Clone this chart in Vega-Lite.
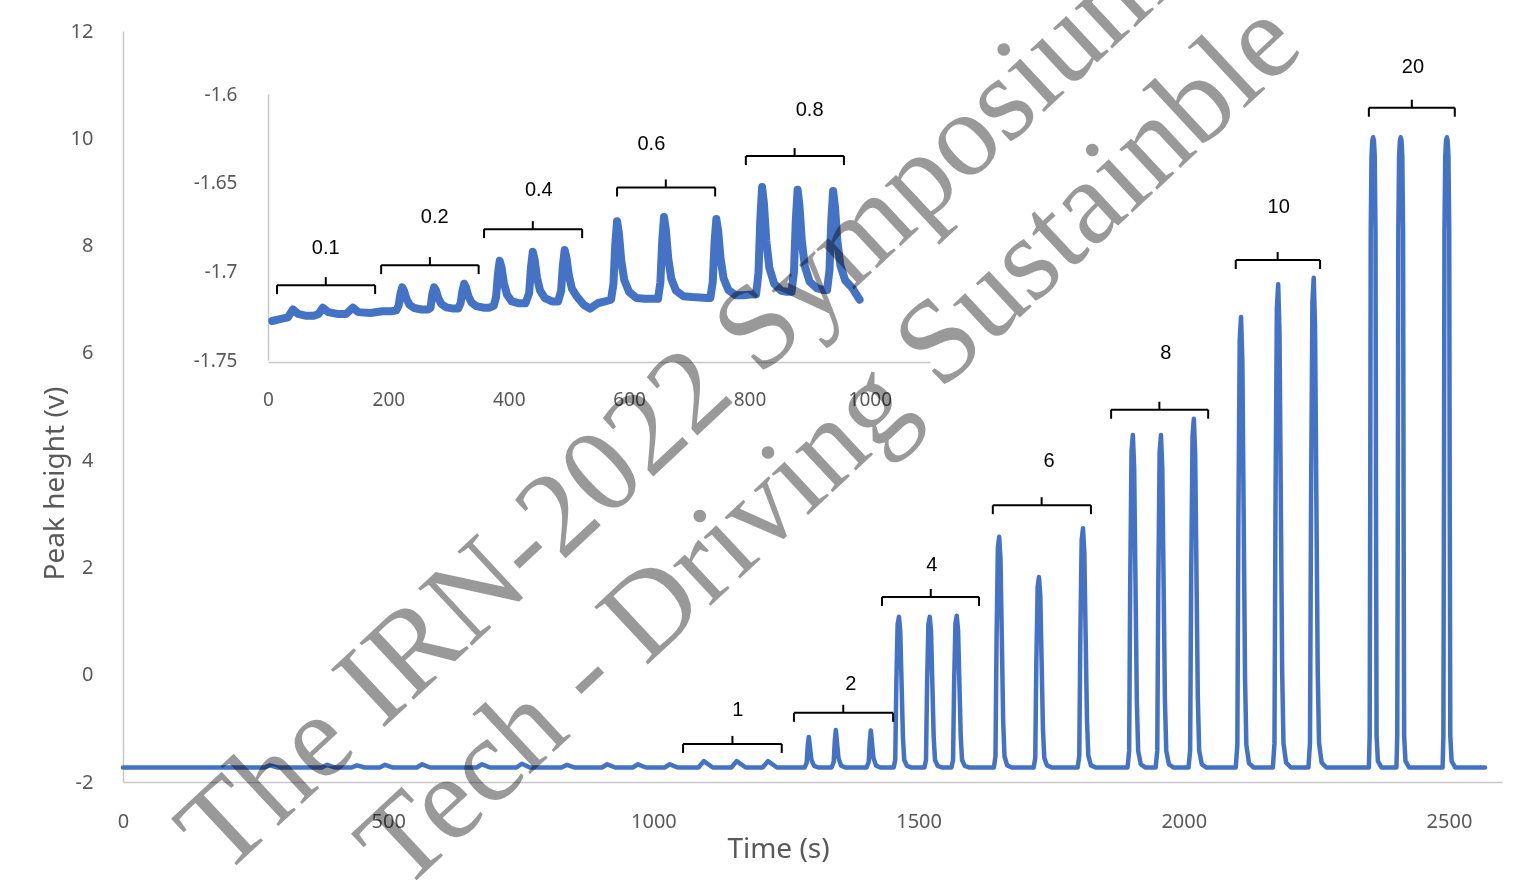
{
  "$schema": "https://vega.github.io/schema/vega-lite/v6.json",
  "width": 1379,
  "height": 751,
  "autosize": {"type": "none"},
  "padding": {"left": 123, "top": 31, "right": 20, "bottom": 105},
  "background": "#ffffff",
  "config": {
    "view": {"stroke": null},
    "axis": {"grid": false, "ticks": false, "labelFlush": false, "labelOverlap": false, "domainColor": "#c8c8c8", "domainWidth": 1.5, "labelColor": "#595959", "labelFont": "Noto Sans", "titleFont": "Noto Sans", "titleColor": "#595959", "titleFontWeight": "normal"}
  },
  "datasets": {
    "main": [
      {"t":0,"v":-1.73},{"t":60,"v":-1.73},
      {"t":267,"v":-1.73},{"t":277,"v":-1.69},{"t":292,"v":-1.73},
      {"t":375,"v":-1.73},{"t":385,"v":-1.68},{"t":400,"v":-1.73},
      {"t":431,"v":-1.73},{"t":441,"v":-1.69},{"t":456,"v":-1.73},
      {"t":484,"v":-1.73},{"t":494,"v":-1.68},{"t":509,"v":-1.73},
      {"t":554,"v":-1.73},{"t":564,"v":-1.67},{"t":579,"v":-1.73},
      {"t":667,"v":-1.73},{"t":677,"v":-1.67},{"t":692,"v":-1.73},
      {"t":742,"v":-1.73},{"t":752,"v":-1.66},{"t":767,"v":-1.73},
      {"t":827,"v":-1.73},{"t":837,"v":-1.68},{"t":852,"v":-1.73},
      {"t":903,"v":-1.73},{"t":913,"v":-1.67},{"t":928,"v":-1.73},
      {"t":961,"v":-1.73},{"t":971,"v":-1.67},{"t":986,"v":-1.73},
      {"t":1021,"v":-1.73},{"t":1031,"v":-1.67},{"t":1046,"v":-1.73},
      {"t":1085,"v":-1.73},{"t":1095,"v":-1.61},{"t":1112,"v":-1.73},
      {"t":1147,"v":-1.73},{"t":1157,"v":-1.61},{"t":1174,"v":-1.73},
      {"t":1206,"v":-1.73},{"t":1216,"v":-1.61},{"t":1233,"v":-1.73},
      {"t":1285,"v":-1.73},{"t":1289,"v":-1.645},{"t":1291,"v":-1.33},{"t":1293,"v":-1.16},{"t":1295,"v":-1.33},{"t":1298,"v":-1.59},{"t":1303,"v":-1.70},{"t":1311,"v":-1.73},
      {"t":1336,"v":-1.73},{"t":1340,"v":-1.625},{"t":1342,"v":-1.24},{"t":1344,"v":-1.03},{"t":1346,"v":-1.24},{"t":1349,"v":-1.555},{"t":1354,"v":-1.695},{"t":1362,"v":-1.73},
      {"t":1402,"v":-1.73},{"t":1406,"v":-1.627},{"t":1408,"v":-1.247},{"t":1410,"v":-1.04},{"t":1412,"v":-1.247},{"t":1415,"v":-1.558},{"t":1420,"v":-1.695},{"t":1428,"v":-1.73},
      {"t":1453,"v":-1.73},{"t":1456,"v":-1.59},{"t":1458,"v":-0.18},{"t":1460.5,"v":0.94},{"t":1463,"v":1.08},{"t":1465.5,"v":0.80},{"t":1468,"v":-0.18},{"t":1470.5,"v":-1.17},{"t":1473,"v":-1.59},{"t":1478,"v":-1.70},{"t":1487,"v":-1.73},
      {"t":1511,"v":-1.73},{"t":1514,"v":-1.59},{"t":1516,"v":-0.18},{"t":1518.5,"v":0.94},{"t":1521,"v":1.08},{"t":1523.5,"v":0.80},{"t":1526,"v":-0.18},{"t":1528.5,"v":-1.17},{"t":1531,"v":-1.59},{"t":1536,"v":-1.70},{"t":1545,"v":-1.73},
      {"t":1562,"v":-1.73},{"t":1565,"v":-1.59},{"t":1567,"v":-0.17},{"t":1569.5,"v":0.96},{"t":1572,"v":1.10},{"t":1574.5,"v":0.82},{"t":1577,"v":-0.17},{"t":1579.5,"v":-1.16},{"t":1582,"v":-1.59},{"t":1587,"v":-1.70},{"t":1596,"v":-1.73},
      {"t":1642,"v":-1.73},{"t":1645,"v":-1.52},{"t":1647,"v":0.64},{"t":1649.5,"v":2.36},{"t":1652,"v":2.57},{"t":1654.5,"v":2.14},{"t":1657,"v":0.64},{"t":1659.5,"v":-0.87},{"t":1662,"v":-1.52},{"t":1667,"v":-1.69},{"t":1676,"v":-1.73},
      {"t":1717,"v":-1.73},{"t":1720,"v":-1.55},{"t":1722,"v":0.22},{"t":1724.5,"v":1.64},{"t":1727,"v":1.82},{"t":1729.5,"v":1.47},{"t":1732,"v":0.22},{"t":1734.5,"v":-1.02},{"t":1737,"v":-1.55},{"t":1742,"v":-1.69},{"t":1751,"v":-1.73},
      {"t":1800,"v":-1.73},{"t":1803,"v":-1.51},{"t":1805,"v":0.72},{"t":1807.5,"v":2.51},{"t":1810,"v":2.73},{"t":1812.5,"v":2.28},{"t":1815,"v":0.72},{"t":1817.5,"v":-0.84},{"t":1820,"v":-1.51},{"t":1825,"v":-1.69},{"t":1834,"v":-1.73},
      {"t":1894,"v":-1.73},{"t":1897,"v":-1.42},{"t":1899,"v":1.68},{"t":1901.5,"v":4.16},{"t":1904,"v":4.47},{"t":1906.5,"v":3.85},{"t":1909,"v":1.68},{"t":1911.5,"v":-0.49},{"t":1914,"v":-1.42},{"t":1919,"v":-1.67},{"t":1928,"v":-1.73},
      {"t":1947,"v":-1.73},{"t":1950,"v":-1.42},{"t":1952,"v":1.68},{"t":1954.5,"v":4.16},{"t":1957,"v":4.47},{"t":1959.5,"v":3.85},{"t":1962,"v":1.68},{"t":1964.5,"v":-0.49},{"t":1967,"v":-1.42},{"t":1972,"v":-1.67},{"t":1981,"v":-1.73},
      {"t":2009,"v":-1.73},{"t":2012,"v":-1.41},{"t":2014,"v":1.85},{"t":2016.5,"v":4.45},{"t":2019,"v":4.77},{"t":2021.5,"v":4.12},{"t":2024,"v":1.85},{"t":2026.5,"v":-0.43},{"t":2029,"v":-1.41},{"t":2034,"v":-1.67},{"t":2043,"v":-1.73},
      {"t":2098,"v":-1.73},{"t":2101,"v":-1.31},{"t":2103,"v":2.89},{"t":2105.5,"v":6.25},{"t":2108,"v":6.67},{"t":2110.5,"v":5.83},{"t":2113,"v":2.89},{"t":2115.5,"v":-0.05},{"t":2118,"v":-1.31},{"t":2123,"v":-1.65},{"t":2132,"v":-1.73},
      {"t":2168,"v":-1.73},{"t":2171,"v":-1.28},{"t":2173,"v":3.23},{"t":2175.5,"v":6.83},{"t":2178,"v":7.28},{"t":2180.5,"v":6.38},{"t":2183,"v":3.23},{"t":2185.5,"v":0.07},{"t":2188,"v":-1.28},{"t":2193,"v":-1.64},{"t":2202,"v":-1.73},
      {"t":2235,"v":-1.73},{"t":2238,"v":-1.27},{"t":2240,"v":3.29},{"t":2242.5,"v":6.94},{"t":2245,"v":7.40},{"t":2247.5,"v":6.49},{"t":2250,"v":3.29},{"t":2252.5,"v":0.10},{"t":2255,"v":-1.27},{"t":2260,"v":-1.64},{"t":2269,"v":-1.73},
      {"t":2349,"v":-1.73},{"t":2350.5,"v":-1.14},{"t":2351.5,"v":2.97},{"t":2352.5,"v":8.26},{"t":2354,"v":9.67},{"t":2355.5,"v":9.96},{"t":2357,"v":10.02},{"t":2358.5,"v":9.96},{"t":2360,"v":9.67},{"t":2361.5,"v":8.26},{"t":2362.5,"v":2.97},{"t":2363.5,"v":-1.14},{"t":2366,"v":-1.61},{"t":2373,"v":-1.73},
      {"t":2401,"v":-1.73},{"t":2402.5,"v":-1.14},{"t":2403.5,"v":2.97},{"t":2404.5,"v":8.26},{"t":2406,"v":9.67},{"t":2407.5,"v":9.96},{"t":2409,"v":10.02},{"t":2410.5,"v":9.96},{"t":2412,"v":9.67},{"t":2413.5,"v":8.26},{"t":2414.5,"v":2.97},{"t":2415.5,"v":-1.14},{"t":2418,"v":-1.61},{"t":2425,"v":-1.73},
      {"t":2488,"v":-1.73},{"t":2489.5,"v":-1.14},{"t":2490.5,"v":2.97},{"t":2491.5,"v":8.26},{"t":2493,"v":9.67},{"t":2494.5,"v":9.96},{"t":2496,"v":10.02},{"t":2497.5,"v":9.96},{"t":2499,"v":9.67},{"t":2500.5,"v":8.26},{"t":2501.5,"v":2.97},{"t":2502.5,"v":-1.14},{"t":2505,"v":-1.61},{"t":2512,"v":-1.73},
      {"t":2568,"v":-1.73}
    ],
    "inset": [
      {"t":7,"v":-1.728},{"t":20,"v":-1.727},{"t":33,"v":-1.726},{"t":41.5,"v":-1.7215},{"t":50,"v":-1.724},{"t":62,"v":-1.725},{"t":76,"v":-1.725},{"t":84,"v":-1.724},{"t":91,"v":-1.7205},{"t":100,"v":-1.723},{"t":115,"v":-1.724},{"t":130,"v":-1.724},{"t":141,"v":-1.7205},{"t":150,"v":-1.723},{"t":170,"v":-1.7235},{"t":190,"v":-1.7225},{"t":205,"v":-1.7225},
      {"t":213,"v":-1.722},{"t":217,"v":-1.7194},{"t":220,"v":-1.7129},{"t":223,"v":-1.709},{"t":226,"v":-1.711},{"t":230,"v":-1.7155},{"t":235,"v":-1.7188},{"t":243,"v":-1.7207},{"t":255,"v":-1.7215},{"t":266,"v":-1.7215},
      {"t":270,"v":-1.7206},{"t":273,"v":-1.7128},{"t":276,"v":-1.709},{"t":279,"v":-1.7106},{"t":283,"v":-1.7152},{"t":288,"v":-1.7184},{"t":296,"v":-1.7203},{"t":308,"v":-1.721},{"t":316,"v":-1.721},
      {"t":320,"v":-1.718},{"t":323,"v":-1.7112},{"t":326,"v":-1.707},{"t":329,"v":-1.7091},{"t":333,"v":-1.714},{"t":338,"v":-1.7175},{"t":346,"v":-1.7196},{"t":358,"v":-1.7205},{"t":368,"v":-1.7205},
      {"t":375,"v":-1.7195},{"t":379,"v":-1.7144},{"t":382,"v":-1.7017},{"t":385,"v":-1.694},{"t":388,"v":-1.6978},{"t":392,"v":-1.7067},{"t":397,"v":-1.713},{"t":405,"v":-1.717},{"t":417,"v":-1.718},{"t":428,"v":-1.718},
      {"t":434,"v":-1.7122},{"t":437,"v":-1.6977},{"t":440,"v":-1.689},{"t":443,"v":-1.6934},{"t":447,"v":-1.7035},{"t":452,"v":-1.7108},{"t":460,"v":-1.7151},{"t":472,"v":-1.717},{"t":482,"v":-1.717},
      {"t":487,"v":-1.7112},{"t":490,"v":-1.6967},{"t":493,"v":-1.688},{"t":496,"v":-1.6924},{"t":500,"v":-1.7025},{"t":505,"v":-1.7098},{"t":513,"v":-1.7141},{"t":525,"v":-1.719},{"t":535,"v":-1.721},{"t":548,"v":-1.718},{"t":560,"v":-1.717},{"t":570,"v":-1.716},
      {"t":574,"v":-1.7071},{"t":577,"v":-1.685},{"t":580,"v":-1.6717},{"t":583,"v":-1.6783},{"t":587,"v":-1.6939},{"t":592,"v":-1.7049},{"t":600,"v":-1.7116},{"t":612,"v":-1.715},{"t":626,"v":-1.7155},{"t":640,"v":-1.7155},
      {"t":648,"v":-1.7155},{"t":652,"v":-1.7063},{"t":655,"v":-1.6832},{"t":658,"v":-1.6694},{"t":661,"v":-1.6763},{"t":665,"v":-1.6925},{"t":670,"v":-1.704},{"t":678,"v":-1.7109},{"t":690,"v":-1.714},{"t":705,"v":-1.7145},{"t":730,"v":-1.715},
      {"t":735,"v":-1.715},{"t":739,"v":-1.7061},{"t":742,"v":-1.6838},{"t":745,"v":-1.6705},{"t":748,"v":-1.6772},{"t":752,"v":-1.6928},{"t":757,"v":-1.7039},{"t":765,"v":-1.7105},{"t":777,"v":-1.7135},{"t":790,"v":-1.7135},{"t":805,"v":-1.713},
      {"t":811,"v":-1.713},{"t":815,"v":-1.7009},{"t":818,"v":-1.6707},{"t":821,"v":-1.6525},{"t":824,"v":-1.6616},{"t":828,"v":-1.6828},{"t":833,"v":-1.6979},{"t":841,"v":-1.7069},{"t":853,"v":-1.711},{"t":862,"v":-1.7115},
      {"t":870,"v":-1.7115},{"t":874,"v":-1.70},{"t":877,"v":-1.6713},{"t":880,"v":-1.654},{"t":883,"v":-1.6626},{"t":887,"v":-1.6828},{"t":892,"v":-1.6971},{"t":900,"v":-1.7058},{"t":912,"v":-1.7095},{"t":922,"v":-1.7105},
      {"t":929,"v":-1.7105},{"t":933,"v":-1.6993},{"t":936,"v":-1.6714},{"t":939,"v":-1.6547},{"t":942,"v":-1.6631},{"t":946,"v":-1.6826},{"t":951,"v":-1.6966},{"t":959,"v":-1.705},{"t":971,"v":-1.7095},{"t":983,"v":-1.716}
    ],
    "mb": [
      {"label":"1","x1":1056,"x2":1242,"xm":1149,"y":-1.29,"lx":1159,"ly":-0.66},
      {"label":"2","x1":1265,"x2":1452,"xm":1358,"y":-0.71,"lx":1372,"ly":-0.17},
      {"label":"4","x1":1431,"x2":1614,"xm":1523,"y":1.45,"lx":1525,"ly":2.05},
      {"label":"6","x1":1640,"x2":1825,"xm":1732,"y":3.16,"lx":1746,"ly":3.98},
      {"label":"8","x1":1863,"x2":2046,"xm":1954,"y":4.94,"lx":1966,"ly":6.0},
      {"label":"10","x1":2098,"x2":2257,"xm":2177,"y":7.73,"lx":2179,"ly":8.72},
      {"label":"20","x1":2349,"x2":2511,"xm":2430,"y":10.57,"lx":2432,"ly":11.33}
    ],
    "ib": [
      {"label":"0.1","x1":15,"x2":178,"xm":96,"y":-1.7078,"lx":96,"ly":-1.6869},
      {"label":"0.2","x1":188,"x2":350,"xm":269,"y":-1.6965,"lx":277,"ly":-1.6694},
      {"label":"0.4","x1":359,"x2":522,"xm":440,"y":-1.6762,"lx":450,"ly":-1.6542},
      {"label":"0.6","x1":580,"x2":743,"xm":661,"y":-1.6527,"lx":637,"ly":-1.6282},
      {"label":"0.8","x1":794,"x2":957,"xm":875,"y":-1.635,"lx":900,"ly":-1.609}
    ],
    "wm": [
      {"x":-74.8,"y":-2.0419,"txt":"The IRN-2022 Symposium"},
      {"x":224.3,"y":-2.0504,"txt":"Tech - Driving Sustainble"}
    ]
  },
  "layer": [
    {
      "data": {"name": "main"},
      "mark": {"type": "line", "color": "#4472C4", "strokeWidth": 4.5, "strokeJoin": "round", "strokeCap": "round"},
      "encoding": {
        "x": {"field": "t", "type": "quantitative", "scale": {"domain": [0, 2600], "nice": false, "zero": false},
              "axis": {"orient": "bottom", "values": [0, 500, 1000, 1500, 2000, 2500], "format": "d", "title": "Time (s)", "labelFontSize": 20, "labelPadding": 29, "titleFontSize": 28, "titleX": 655, "titleY": 75, "titleBaseline": "alphabetic", "titleAlign": "center"}},
        "y": {"field": "v", "type": "quantitative", "scale": {"domain": [-2, 12], "nice": false, "zero": false},
              "axis": {"orient": "left", "values": [-2, 0, 2, 4, 6, 8, 10, 12], "labelExpr": "replace(datum.label, '\u2212', '-')", "title": "Peak height (v)", "labelFontSize": 20, "labelPadding": 30, "titleFontSize": 28, "titleX": -68, "titleY": 452, "titleBaseline": "middle", "titleAlign": "center", "titleAngle": -90}}
      }
    },
    {
      "data": {"name": "mb"},
      "mark": {"type": "rule", "color": "#000000", "strokeWidth": 2},
      "encoding": {
        "x": {"field": "x1", "type": "quantitative", "scale": {"domain": [0, 2600], "nice": false, "zero": false}, "axis": null},
        "x2": {"field": "x2"},
        "y": {"field": "y", "type": "quantitative", "scale": {"domain": [-2, 12], "nice": false, "zero": false}, "axis": null}
      }
    },
    {
      "data": {"name": "mb"},
      "mark": {"type": "tick", "orient": "vertical", "color": "#000000", "opacity": 1, "thickness": 2, "size": 9, "yOffset": 4.5},
      "encoding": {
        "x": {"field": "x1", "type": "quantitative", "scale": {"domain": [0, 2600], "nice": false, "zero": false}, "axis": null},
        "y": {"field": "y", "type": "quantitative", "scale": {"domain": [-2, 12], "nice": false, "zero": false}, "axis": null}
      }
    },
    {
      "data": {"name": "mb"},
      "mark": {"type": "tick", "orient": "vertical", "color": "#000000", "opacity": 1, "thickness": 2, "size": 9, "yOffset": 4.5},
      "encoding": {
        "x": {"field": "x2", "type": "quantitative", "scale": {"domain": [0, 2600], "nice": false, "zero": false}, "axis": null},
        "y": {"field": "y", "type": "quantitative", "scale": {"domain": [-2, 12], "nice": false, "zero": false}, "axis": null}
      }
    },
    {
      "data": {"name": "mb"},
      "mark": {"type": "tick", "orient": "vertical", "color": "#000000", "opacity": 1, "thickness": 2, "size": 8, "yOffset": -4},
      "encoding": {
        "x": {"field": "xm", "type": "quantitative", "scale": {"domain": [0, 2600], "nice": false, "zero": false}, "axis": null},
        "y": {"field": "y", "type": "quantitative", "scale": {"domain": [-2, 12], "nice": false, "zero": false}, "axis": null}
      }
    },
    {
      "data": {"name": "mb"},
      "mark": {"type": "text", "font": "Liberation Sans", "fontSize": 20, "color": "#000000", "align": "center", "baseline": "middle"},
      "encoding": {
        "x": {"field": "lx", "type": "quantitative", "scale": {"domain": [0, 2600], "nice": false, "zero": false}, "axis": null},
        "y": {"field": "ly", "type": "quantitative", "scale": {"domain": [-2, 12], "nice": false, "zero": false}, "axis": null},
        "text": {"field": "label"}
      }
    },
    {
      "data": {"name": "inset"},
      "mark": {"type": "line", "color": "#4472C4", "strokeWidth": 8, "strokeJoin": "round", "strokeCap": "round"},
      "encoding": {
        "x": {"field": "t", "type": "quantitative", "scale": {"domain": [0, 1100], "range": [145, 807], "nice": false, "zero": false},
              "axis": {"orient": "bottom", "offset": -420, "values": [0, 200, 400, 600, 800, 1000], "format": "d", "title": null, "labelFontSize": 19, "labelPadding": 28}},
        "y": {"field": "v", "type": "quantitative", "scale": {"domain": [-1.75, -1.6], "range": [329, 63], "nice": false, "zero": false},
              "axis": {"orient": "left", "offset": -145, "values": [-1.75, -1.7, -1.65, -1.6], "format": "~g", "labelExpr": "replace(datum.label, '\u2212', '-')", "title": null, "labelFontSize": 19, "labelPadding": 31}}
      }
    },
    {
      "data": {"name": "ib"},
      "mark": {"type": "rule", "color": "#000000", "strokeWidth": 2},
      "encoding": {
        "x": {"field": "x1", "type": "quantitative", "scale": {"domain": [0, 1100], "range": [145, 807], "nice": false, "zero": false}, "axis": null},
        "x2": {"field": "x2"},
        "y": {"field": "y", "type": "quantitative", "scale": {"domain": [-1.75, -1.6], "range": [329, 63], "nice": false, "zero": false}, "axis": null}
      }
    },
    {
      "data": {"name": "ib"},
      "mark": {"type": "tick", "orient": "vertical", "color": "#000000", "opacity": 1, "thickness": 2, "size": 9, "yOffset": 4.5},
      "encoding": {
        "x": {"field": "x1", "type": "quantitative", "scale": {"domain": [0, 1100], "range": [145, 807], "nice": false, "zero": false}, "axis": null},
        "y": {"field": "y", "type": "quantitative", "scale": {"domain": [-1.75, -1.6], "range": [329, 63], "nice": false, "zero": false}, "axis": null}
      }
    },
    {
      "data": {"name": "ib"},
      "mark": {"type": "tick", "orient": "vertical", "color": "#000000", "opacity": 1, "thickness": 2, "size": 9, "yOffset": 4.5},
      "encoding": {
        "x": {"field": "x2", "type": "quantitative", "scale": {"domain": [0, 1100], "range": [145, 807], "nice": false, "zero": false}, "axis": null},
        "y": {"field": "y", "type": "quantitative", "scale": {"domain": [-1.75, -1.6], "range": [329, 63], "nice": false, "zero": false}, "axis": null}
      }
    },
    {
      "data": {"name": "ib"},
      "mark": {"type": "tick", "orient": "vertical", "color": "#000000", "opacity": 1, "thickness": 2, "size": 8, "yOffset": -4},
      "encoding": {
        "x": {"field": "xm", "type": "quantitative", "scale": {"domain": [0, 1100], "range": [145, 807], "nice": false, "zero": false}, "axis": null},
        "y": {"field": "y", "type": "quantitative", "scale": {"domain": [-1.75, -1.6], "range": [329, 63], "nice": false, "zero": false}, "axis": null}
      }
    },
    {
      "data": {"name": "ib"},
      "mark": {"type": "text", "font": "Liberation Sans", "fontSize": 20, "color": "#000000", "align": "center", "baseline": "middle"},
      "encoding": {
        "x": {"field": "lx", "type": "quantitative", "scale": {"domain": [0, 1100], "range": [145, 807], "nice": false, "zero": false}, "axis": null},
        "y": {"field": "ly", "type": "quantitative", "scale": {"domain": [-1.75, -1.6], "range": [329, 63], "nice": false, "zero": false}, "axis": null},
        "text": {"field": "label"}
      }
    },
    {
      "data": {"name": "wm"},
      "mark": {"type": "text", "font": "Liberation Serif", "fontSize": 120, "fill": "#999999", "blend": "multiply", "angle": 317, "align": "left", "baseline": "alphabetic"},
      "encoding": {
        "x": {"field": "x", "type": "quantitative", "scale": {"domain": [0, 1100], "range": [145, 807], "nice": false, "zero": false}, "axis": null},
        "y": {"field": "y", "type": "quantitative", "scale": {"domain": [-1.75, -1.6], "range": [329, 63], "nice": false, "zero": false}, "axis": null},
        "text": {"field": "txt"}
      }
    }
  ],
  "resolve": {"scale": {"x": "independent", "y": "independent"}, "axis": {"x": "independent", "y": "independent"}}
}
